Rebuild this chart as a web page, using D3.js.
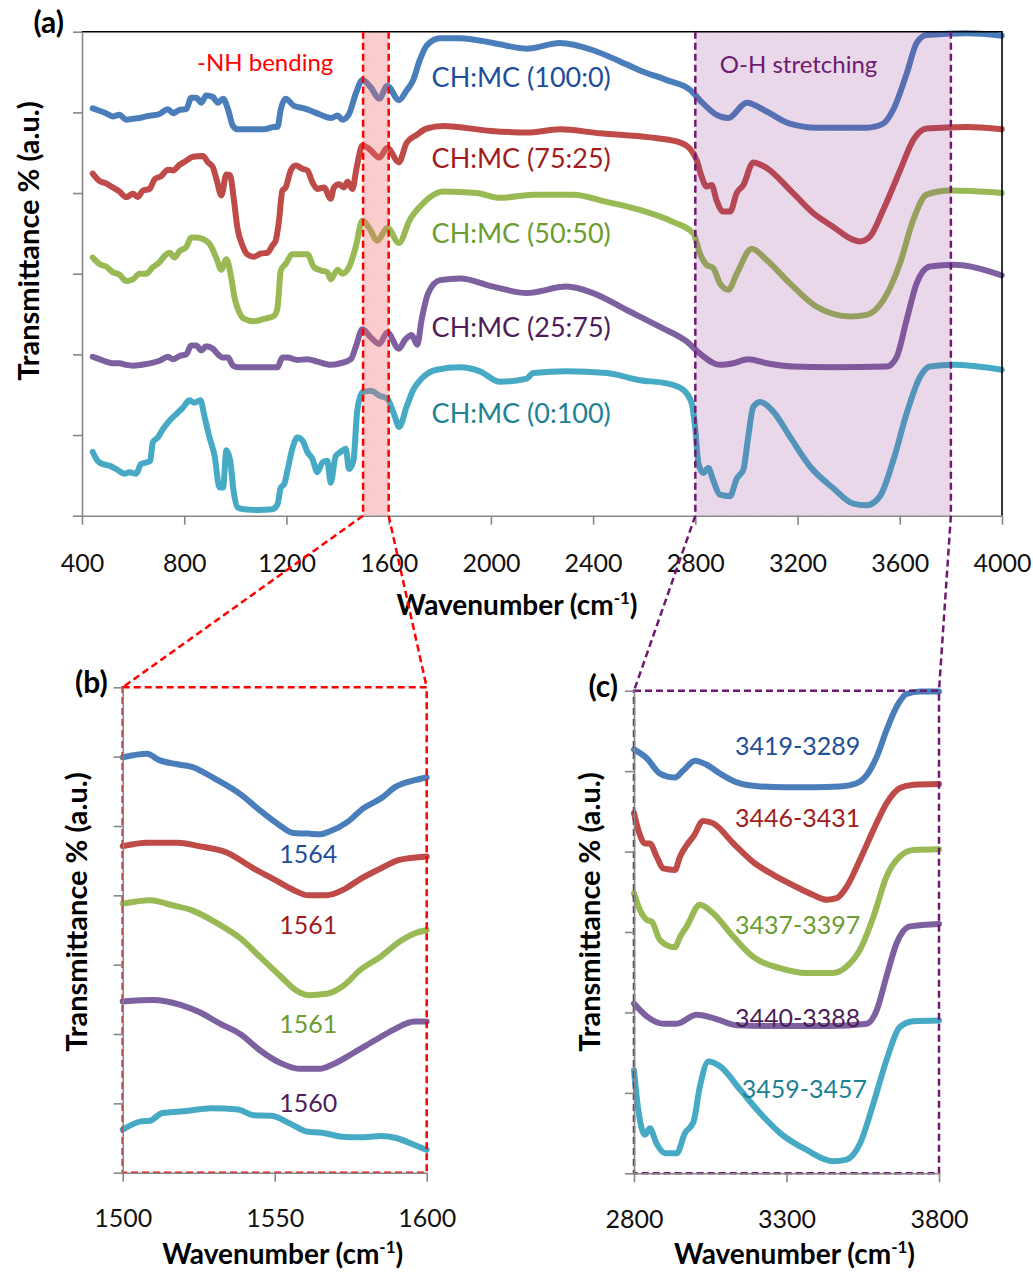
<!DOCTYPE html>
<html>
<head>
<meta charset="utf-8">
<script src="https://cdn.jsdelivr.net/npm/d3@7"></script>
<style>
body { margin: 0; background: #fff; }
svg { font-family: Lato, Carlito, Calibri, sans-serif; }
</style>
</head>
<body>
<div id="chart"></div>
<script>
// ---- data (wavenumber cm-1, transmittance in axis units) ----
const seriesNames = ["CH:MC (100:0)", "CH:MC (75:25)", "CH:MC (50:50)", "CH:MC (25:75)", "CH:MC (0:100)"];

// panel (a) full spectra
const fullCh100 = [[442,5.05],[468,5.02],[494,4.99],[520,4.95],[546,4.97],[573,4.91],[599,4.92],[625,4.93],[651,4.95],[703,4.98],[736,5.04],[756,4.99],[782,5.03],[808,5.04],[827,5.18],[847,5.18],[867,5.12],[886,5.21],[912,5.19],[932,5.12],[952,5.17],[971,5.04],[991,4.83],[1010,4.79],[1060,4.79],[1113,4.79],[1152,4.82],[1165,4.82],[1178,5.04],[1197,5.17],[1230,5.08],[1269,5.05],[1295,5.02],[1334,4.97],[1373,4.93],[1400,4.96],[1419,4.91],[1445,4.98],[1471,5.23],[1497,5.40],[1530,5.31],[1563,5.17],[1595,5.33],[1640,5.15],[1670,5.27],[1696,5.40],[1722,5.65],[1749,5.83],[1801,5.92],[1879,5.92],[2009,5.86],[2140,5.79],[2270,5.86],[2400,5.77],[2492,5.65],[2583,5.52],[2688,5.40],[2779,5.28],[2818,5.15],[2883,4.97],[2929,4.93],[3001,5.12],[3079,5.01],[3170,4.86],[3275,4.81],[3470,4.81],[3535,4.86],[3574,5.03],[3627,5.48],[3666,5.86],[3705,5.96],[3862,5.98],[3999,5.95]];
const fullCh75 = [[442,4.24],[468,4.15],[494,4.12],[520,4.07],[546,4.02],[573,3.95],[599,3.99],[618,3.95],[638,4.03],[664,4.05],[684,4.17],[710,4.21],[736,4.29],[756,4.28],[782,4.35],[808,4.40],[834,4.45],[873,4.46],[893,4.38],[912,4.32],[928,4.15],[945,3.97],[965,4.23],[979,4.22],[995,3.90],[1008,3.57],[1028,3.35],[1047,3.24],[1073,3.21],[1100,3.25],[1126,3.26],[1145,3.35],[1158,3.41],[1171,3.66],[1184,4.03],[1197,4.07],[1217,4.28],[1236,4.34],[1263,4.30],[1282,4.28],[1302,4.13],[1321,4.05],[1347,4.07],[1373,3.93],[1386,4.07],[1406,4.11],[1425,4.07],[1439,4.14],[1458,4.05],[1475,4.32],[1497,4.59],[1523,4.55],[1563,4.44],[1595,4.56],[1640,4.38],[1670,4.62],[1709,4.72],[1749,4.80],[1814,4.83],[2000,4.77],[2140,4.75],[2270,4.79],[2427,4.74],[2622,4.69],[2727,4.64],[2779,4.55],[2805,4.41],[2825,4.20],[2844,4.08],[2864,4.10],[2883,3.91],[2909,3.77],[2936,3.77],[2962,4.00],[2988,4.10],[3027,4.38],[3079,4.31],[3170,4.04],[3262,3.75],[3340,3.58],[3405,3.44],[3444,3.40],[3483,3.46],[3535,3.79],[3601,4.28],[3653,4.66],[3705,4.80],[3862,4.82],[3999,4.79]];
const fullCh50 = [[442,3.20],[468,3.12],[494,3.09],[520,3.02],[546,2.99],[573,2.91],[599,2.93],[625,3.00],[651,3.00],[677,3.08],[703,3.14],[723,3.22],[743,3.26],[762,3.20],[782,3.28],[808,3.33],[827,3.45],[847,3.45],[873,3.43],[899,3.37],[925,3.20],[945,3.05],[965,3.18],[984,2.95],[997,2.70],[1008,2.58],[1034,2.44],[1073,2.41],[1113,2.44],[1152,2.48],[1165,2.58],[1178,3.04],[1197,3.12],[1223,3.24],[1256,3.24],[1282,3.24],[1308,3.08],[1334,3.04],[1360,3.02],[1373,2.93],[1400,3.05],[1419,3.00],[1445,3.08],[1471,3.33],[1497,3.66],[1523,3.57],[1556,3.41],[1595,3.57],[1640,3.38],[1683,3.67],[1722,3.83],[1762,3.95],[1814,4.02],[1944,4.00],[2036,3.94],[2166,3.98],[2322,3.98],[2453,3.89],[2583,3.79],[2714,3.64],[2792,3.50],[2818,3.25],[2844,3.11],[2870,3.07],[2896,2.88],[2929,2.80],[2962,3.00],[3021,3.31],[3079,3.17],[3170,2.88],[3275,2.59],[3405,2.47],[3470,2.49],[3535,2.67],[3601,3.13],[3653,3.67],[3705,3.98],[3797,4.03],[3999,4.00]];
const fullCh25 = [[442,1.97],[468,1.94],[494,1.91],[520,1.89],[546,1.89],[573,1.87],[599,1.86],[651,1.88],[703,1.92],[736,1.97],[756,1.94],[782,1.98],[808,2.00],[827,2.11],[847,2.11],[867,2.05],[886,2.10],[912,2.07],[932,2.00],[952,1.96],[971,1.96],[991,1.86],[1010,1.84],[1060,1.84],[1165,1.84],[1184,1.96],[1204,1.96],[1243,1.93],[1282,1.94],[1321,1.91],[1373,1.87],[1412,1.89],[1452,1.94],[1471,2.09],[1497,2.31],[1530,2.21],[1563,2.13],[1595,2.27],[1640,2.07],[1664,2.18],[1690,2.24],[1712,2.12],[1729,2.43],[1755,2.76],[1801,2.92],[1879,2.94],[2009,2.84],[2140,2.76],[2296,2.84],[2400,2.76],[2531,2.55],[2662,2.34],[2766,2.16],[2818,2.01],[2896,1.87],[2948,1.89],[3007,1.94],[3079,1.89],[3183,1.85],[3340,1.84],[3549,1.85],[3588,1.97],[3627,2.43],[3666,2.88],[3718,3.09],[3810,3.11],[3999,2.98]];
const fullCh0 = [[442,0.79],[461,0.68],[481,0.64],[507,0.62],[533,0.58],[566,0.52],[586,0.54],[612,0.52],[631,0.64],[651,0.66],[667,0.68],[677,0.91],[697,0.97],[716,1.07],[743,1.18],[769,1.26],[795,1.34],[821,1.43],[840,1.40],[863,1.43],[880,1.22],[899,0.97],[919,0.74],[938,0.35],[952,0.35],[965,0.81],[980,0.68],[993,0.31],[1010,0.10],[1034,0.08],[1087,0.07],[1145,0.08],[1165,0.14],[1178,0.35],[1191,0.39],[1204,0.56],[1223,0.83],[1243,0.97],[1263,0.93],[1282,0.79],[1302,0.70],[1321,0.54],[1341,0.66],[1360,0.68],[1373,0.41],[1393,0.74],[1412,0.79],[1432,0.83],[1445,0.58],[1462,0.68],[1477,1.30],[1497,1.53],[1530,1.55],[1563,1.49],[1595,1.45],[1621,1.26],[1641,1.10],[1670,1.35],[1696,1.56],[1729,1.70],[1788,1.81],[1879,1.84],[1957,1.79],[2035,1.66],[2140,1.70],[2166,1.77],[2296,1.79],[2453,1.77],[2583,1.68],[2688,1.64],[2753,1.56],[2786,1.39],[2799,1.10],[2812,0.65],[2831,0.53],[2851,0.59],[2870,0.44],[2896,0.26],[2935,0.24],[2962,0.46],[2988,0.57],[3007,0.98],[3027,1.35],[3053,1.41],[3105,1.29],[3170,0.98],[3249,0.61],[3340,0.34],[3418,0.15],[3470,0.13],[3522,0.24],[3575,0.69],[3627,1.27],[3679,1.72],[3718,1.85],[3810,1.87],[3999,1.81]];

// panel (b) -NH bending region
const nhCh100 = [[1500,5.99],[1508,6.04],[1512,5.95],[1518,5.89],[1523,5.85],[1530,5.69],[1539,5.45],[1545,5.23],[1551,5.03],[1556,4.90],[1561,4.89],[1565,4.88],[1568,4.92],[1574,5.06],[1579,5.25],[1585,5.40],[1590,5.57],[1596,5.66],[1600,5.70]];
const nhCh75 = [[1500,4.71],[1508,4.76],[1518,4.76],[1525,4.71],[1534,4.62],[1543,4.39],[1551,4.20],[1556,4.08],[1561,4.00],[1567,4.00],[1573,4.09],[1578,4.23],[1585,4.39],[1591,4.51],[1600,4.56]];
const nhCh50 = [[1500,3.88],[1509,3.93],[1516,3.86],[1523,3.78],[1531,3.60],[1539,3.37],[1545,3.12],[1552,2.83],[1557,2.63],[1561,2.56],[1567,2.58],[1573,2.71],[1578,2.92],[1585,3.12],[1591,3.33],[1596,3.45],[1600,3.50]];
const nhCh25 = [[1500,2.47],[1510,2.49],[1519,2.42],[1525,2.32],[1532,2.15],[1539,1.99],[1545,1.77],[1552,1.58],[1558,1.50],[1565,1.50],[1569,1.56],[1576,1.73],[1583,1.91],[1589,2.06],[1596,2.18],[1600,2.18]];
const nhCh0 = [[1500,0.62],[1506,0.74],[1509,0.75],[1513,0.86],[1521,0.89],[1529,0.93],[1538,0.91],[1543,0.83],[1549,0.82],[1555,0.71],[1561,0.59],[1565,0.58],[1572,0.52],[1578,0.51],[1585,0.53],[1590,0.50],[1596,0.40],[1600,0.33]];
const nhPeaks = ["1564", "1561", "1561", "1560"];

// panel (c) O-H stretching region
const ohCh100 = [[2800,5.27],[2842,5.16],[2885,4.97],[2934,4.92],[2962,5.01],[3000,5.13],[3038,5.08],[3082,4.97],[3137,4.86],[3213,4.81],[3300,4.80],[3388,4.80],[3475,4.81],[3530,4.85],[3563,4.95],[3596,5.18],[3628,5.51],[3661,5.80],[3694,5.96],[3738,5.99],[3800,5.99]];
const ohCh75 = [[2800,4.48],[2814,4.27],[2836,4.10],[2852,4.10],[2874,3.94],[2896,3.79],[2934,3.77],[2951,3.94],[2973,4.08],[2995,4.19],[3027,4.38],[3060,4.35],[3126,4.10],[3191,3.87],[3257,3.71],[3322,3.58],[3388,3.46],[3432,3.40],[3464,3.42],[3497,3.56],[3541,3.90],[3585,4.27],[3628,4.60],[3672,4.79],[3716,4.83],[3800,4.84]];
const ohCh50 = [[2800,3.48],[2820,3.27],[2842,3.15],[2858,3.13],[2885,2.90],[2934,2.81],[2951,2.94],[2973,3.07],[3016,3.34],[3060,3.23],[3126,2.94],[3191,2.69],[3279,2.55],[3366,2.49],[3453,2.49],[3497,2.57],[3541,2.78],[3585,3.19],[3628,3.69],[3672,3.94],[3716,4.02],[3800,4.03]];
const ohCh25 = [[2800,2.11],[2842,1.95],[2896,1.86],[2940,1.86],[3005,1.97],[3060,1.93],[3137,1.84],[3279,1.83],[3443,1.83],[3563,1.86],[3596,2.03],[3628,2.45],[3661,2.86],[3705,3.07],[3800,3.10]];
const ohCh0 = [[2800,1.28],[2814,0.79],[2836,0.48],[2852,0.56],[2874,0.37],[2902,0.25],[2940,0.25],[2967,0.50],[2995,0.64],[3016,1.08],[3044,1.39],[3082,1.33],[3148,1.04],[3213,0.75],[3279,0.50],[3366,0.29],[3453,0.15],[3497,0.17],[3541,0.37],[3585,0.87],[3628,1.41],[3672,1.82],[3716,1.89],[3800,1.90]];
const ohRanges = ["3419-3289", "3446-3431", "3437-3397", "3440-3388", "3459-3457"];

const ticksA = [400, 800, 1200, 1600, 2000, 2400, 2800, 3200, 3600, 4000];
const ticksB = [1500, 1550, 1600];
const ticksC = [2800, 3300, 3800];

// ---- layout / style ----
const W = 1033, H = 1279;
const LINE_COLORS = ["#4A7EBB", "#BE4B48", "#98B954", "#7D60A0", "#46AAC5"];
const TEXT_COLORS = ["#1F4E9A", "#A21C1C", "#6B9D30", "#4E1D57", "#1E8294"];
const AXIS_GREY = "#878787";
const RED = "#FF0000", PURPLE = "#6E1A70";

const A = {left: 82, right: 1002, top: 31.7, bottom: 515.7};
const B = {left: 122.7, right: 426.7, top: 687.3, bottom: 1172.7};
const C = {left: 634, right: 939, top: 690.7, bottom: 1173.3};

const xA = d3.scaleLinear().domain([400, 4000]).range([A.left, A.right]);
const yA = d3.scaleLinear().domain([0, 6]).range([A.bottom, A.top]);
const xB = d3.scaleLinear().domain([1500, 1600]).range([B.left, B.right]);
const yB = d3.scaleLinear().domain([0, 7]).range([B.bottom, B.top]);
const xC = d3.scaleLinear().domain([2800, 3800]).range([C.left, C.right]);
const yC = d3.scaleLinear().domain([0, 6]).range([C.bottom, C.top]);

const svg = d3.select("#chart").append("svg")
    .attr("width", W)
    .attr("height", H);

const defs = svg.append("defs");
function hatch(id, col, base, lines) {
  const p = defs.append("pattern").attr("id", id)
      .attr("width", 3).attr("height", 3)
      .attr("patternUnits", "userSpaceOnUse");
  p.append("rect").attr("width", 3).attr("height", 3).attr("fill", col).attr("fill-opacity", base);
  p.append("path").attr("d", "M0,0L3,3M0,3L3,0").attr("stroke", col)
      .attr("stroke-width", 0.5).attr("stroke-opacity", lines);
}
hatch("hatchRed", "#F06A6A", 0.28, 0.25);
hatch("hatchPurple", "#8E3A8E", 0.16, 0.12);

function drawAxes(x, y, box, xTicks, yMax, pad) {
  const gx = svg.append("g")
      .attr("transform", `translate(0,${box.bottom})`)
      .call(d3.axisBottom(x).tickValues(xTicks).tickFormat(d3.format("d"))
        .tickSize(9).tickPadding(pad).tickSizeOuter(0));
  const gy = svg.append("g")
      .attr("transform", `translate(${box.left},0)`)
      .call(d3.axisLeft(y).tickValues(d3.range(0, yMax + 1)).tickSize(9).tickFormat("").tickSizeOuter(0));
  [gx, gy].forEach(g => {
    g.selectAll("path, line").attr("stroke", AXIS_GREY).attr("stroke-width", 1.6);
  });
  gx.selectAll("text").attr("font-size", 25).attr("fill", "#111")
      .attr("font-family", "Lato, Carlito, Calibri, sans-serif");
}

function drawLines(x, y, series) {
  const line = d3.line()
      .x(d => x(d[0]))
      .y(d => y(d[1]))
      .curve(d3.curveMonotoneX);
  svg.append("g").selectAll("path")
    .data(series)
    .enter()
    .append("path")
      .attr("d", line)
      .attr("fill", "none")
      .attr("stroke", (d, i) => LINE_COLORS[i])
      .attr("stroke-width", 6)
      .attr("stroke-linejoin", "round")
      .attr("stroke-linecap", "round");
}

function xTitle(cx, baseline) {
  const t = svg.append("text")
      .attr("x", cx).attr("y", baseline)
      .attr("text-anchor", "middle")
      .attr("font-weight", "bold")
      .attr("font-size", 28);
  t.append("tspan").text("Wavenumber (cm");
  t.append("tspan").attr("dy", -11).attr("font-size", 17).text("-1");
  t.append("tspan").attr("dy", 11).text(")");
}

function yTitle(cx, cy) {
  svg.append("text")
      .attr("transform", `translate(${cx},${cy}) rotate(-90)`)
      .attr("text-anchor", "middle")
      .attr("dominant-baseline", "central")
      .attr("font-weight", "bold")
      .attr("font-size", 29)
      .text("Transmittance % (a.u.)");
}

function panelTag(label, x, y) {
  svg.append("text")
      .attr("x", x).attr("y", y)
      .attr("text-anchor", "end")
      .attr("font-weight", "bold")
      .attr("font-size", 30)
      .text(label);
}

function dashed(x1, y1, x2, y2, col) {
  svg.append("line")
      .attr("x1", x1).attr("y1", y1).attr("x2", x2).attr("y2", y2)
      .attr("stroke", col)
      .attr("stroke-width", 2.5)
      .attr("stroke-dasharray", "7,4");
}

// ---- panel (a) ----
drawLines(xA, yA, [fullCh100, fullCh75, fullCh50, fullCh25, fullCh0]);

// shaded regions over the curves
svg.append("rect")
    .attr("x", xA(1500)).attr("y", yA(6))
    .attr("width", xA(1600) - xA(1500)).attr("height", yA(0) - yA(6))
    .attr("fill", "url(#hatchRed)");
svg.append("rect")
    .attr("x", xA(2800)).attr("y", yA(6))
    .attr("width", xA(3800) - xA(2800)).attr("height", yA(0) - yA(6))
    .attr("fill", "url(#hatchPurple)");

// plot frame: black top + right
svg.append("path")
    .attr("d", `M${xA(400)},${yA(6)}H${xA(4000)}V${yA(0)}`)
    .attr("fill", "none").attr("stroke", "#000").attr("stroke-width", 1.6);
drawAxes(xA, yA, A, ticksA, 6, 30);

// region boundaries in (a)
[1500, 1600].forEach(w => dashed(xA(w), yA(6), xA(w), yA(0), RED));
[2800, 3800].forEach(w => dashed(xA(w), yA(6), xA(w), yA(0), PURPLE));

svg.append("text")
    .attr("x", xA(850)).attr("y", yA(5.51))
    .attr("font-size", 24).attr("fill", RED)
    .text("-NH bending");
svg.append("text")
    .attr("x", xA(2896)).attr("y", yA(5.49))
    .attr("font-size", 24).attr("fill", PURPLE)
    .text("O-H stretching");

const labelLevelsA = [5.31, 4.31, 3.38, 2.21, 1.15];
svg.append("g").selectAll("text")
  .data(seriesNames)
  .enter()
  .append("text")
    .attr("x", xA(1768))
    .attr("y", (d, i) => yA(labelLevelsA[i]))
    .attr("font-size", 27)
    .attr("fill", (d, i) => TEXT_COLORS[i])
    .text(d => d);

panelTag("(a)", A.left - 18, A.top + 1.5);
yTitle(A.left - 55, 241);
xTitle((A.left + A.right) / 2 - 25, 615);

// ---- connectors ----
dashed(xA(1500), yA(0), xB(1500), yB(7), RED);
dashed(xA(1600), yA(0), xB(1600), yB(7), RED);
dashed(xA(2800), yA(0), xC(2800), yC(6), PURPLE);
dashed(xA(3800), yA(0), xC(3800), yC(6), PURPLE);

// ---- panel (b) ----
drawLines(xB, yB, [nhCh100, nhCh75, nhCh50, nhCh25, nhCh0]);
svg.append("rect")
    .attr("x", B.left).attr("y", B.top)
    .attr("width", B.right - B.left).attr("height", B.bottom - B.top)
    .attr("fill", "none").attr("stroke", RED)
    .attr("stroke-width", 2.5).attr("stroke-dasharray", "7,4");
drawAxes(xB, yB, B, ticksB, 7, 28);
const labelLevelsB = [4.47, 3.44, 2.01, 0.87];
svg.append("g").selectAll("text")
  .data(nhPeaks)
  .enter()
  .append("text")
    .attr("x", xB(1551.5))
    .attr("y", (d, i) => yB(labelLevelsB[i]))
    .attr("font-size", 25)
    .attr("fill", (d, i) => TEXT_COLORS[i])
    .text(d => d);
panelTag("(b)", B.left - 15, B.top + 6);
yTitle(B.left - 47, 912);
xTitle((B.left + B.right) / 2 + 8, 1264);

// ---- panel (c) ----
drawLines(xC, yC, [ohCh100, ohCh75, ohCh50, ohCh25, ohCh0]);
svg.append("rect")
    .attr("x", C.left).attr("y", C.top)
    .attr("width", C.right - C.left).attr("height", C.bottom - C.top)
    .attr("fill", "none").attr("stroke", PURPLE)
    .attr("stroke-width", 2.5).attr("stroke-dasharray", "7,4");
drawAxes(xC, yC, C, ticksC, 6, 28);
const labelAnchorsC = [[3131, 5.20], [3131, 4.31], [3131, 2.97], [3131, 1.82], [3153, 0.93]];
svg.append("g").selectAll("text")
  .data(ohRanges)
  .enter()
  .append("text")
    .attr("x", (d, i) => xC(labelAnchorsC[i][0]))
    .attr("y", (d, i) => yC(labelAnchorsC[i][1]))
    .attr("font-size", 25)
    .attr("fill", (d, i) => TEXT_COLORS[i])
    .text(d => d);
panelTag("(c)", C.left - 16, C.top + 6);
yTitle(C.left - 46, 912);
xTitle((C.left + C.right) / 2 + 8, 1264);
</script>
</body>
</html>
